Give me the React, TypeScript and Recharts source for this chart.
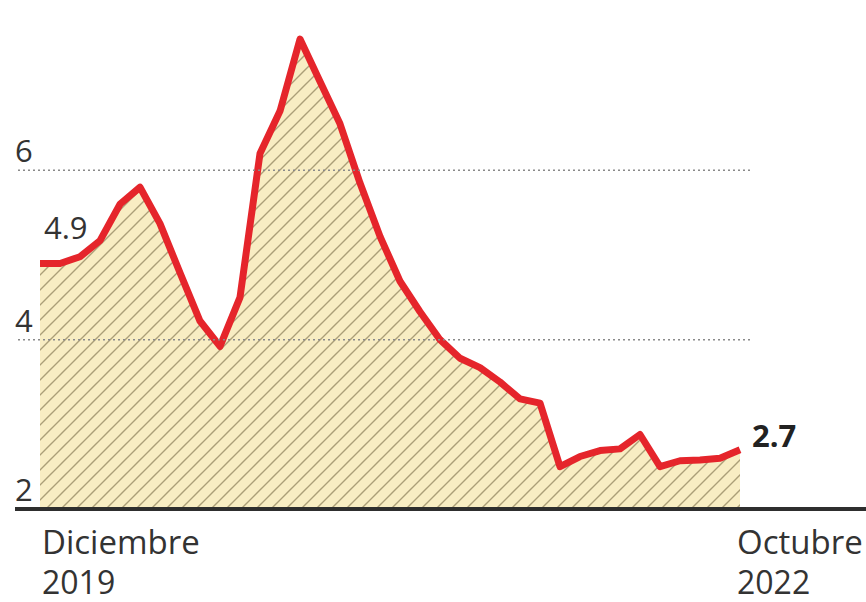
import { AreaChart, Area, XAxis, YAxis, ReferenceLine, LabelList } from "recharts"

// meses, diciembre 2019 a octubre 2022
const months = [
  "Dic 2019", "Ene 2020", "Feb 2020", "Mar 2020", "Abr 2020", "May 2020", "Jun 2020",
  "Jul 2020", "Ago 2020", "Sep 2020", "Oct 2020", "Nov 2020", "Dic 2020", "Ene 2021",
  "Feb 2021", "Mar 2021", "Abr 2021", "May 2021", "Jun 2021", "Jul 2021", "Ago 2021",
  "Sep 2021", "Oct 2021", "Nov 2021", "Dic 2021", "Ene 2022", "Feb 2022", "Mar 2022",
  "Abr 2022", "May 2022", "Jun 2022", "Jul 2022", "Ago 2022", "Sep 2022", "Oct 2022",
]

const values = [
  4.9, 4.9, 4.98, 5.17, 5.6, 5.8, 5.37, 4.79, 4.22, 3.92, 4.5, 6.2, 6.7, 7.55,
  7.05, 6.55, 5.85, 5.22, 4.69, 4.33, 4.0, 3.78, 3.67, 3.5, 3.3, 3.25, 2.5, 2.62,
  2.69, 2.71, 2.88, 2.5, 2.57, 2.58, 2.6, 2.7,
]

const xTickLabels = [
  ["Diciembre", "2019"],
  ["Octubre", "2022"],
]

const yTicks = [2, 4, 6]
const gridValues = [4, 6]

const data = values.map((v, i) => ({ m: i, mes: months[i] ?? "", v }))
const lastIndex = values.length - 1

const FONT = "'Open Sans', sans-serif"
const TEXT = "#333"

function XTick(props: any) {
  const { x, y, payload } = props
  const first = payload.value === 0
  const lines = first ? xTickLabels[0] : xTickLabels[1]
  const tx = first ? x + 2 : x - 3
  return (
    <g>
      <text x={tx} y={y + 37} textAnchor="start" fontSize={33} fill={TEXT} fontFamily={FONT}>
        {lines[0]}
      </text>
      <text x={tx} y={y + 77} textAnchor="start" fontSize={32} fill={TEXT} fontFamily={FONT}>
        {lines[1]}
      </text>
    </g>
  )
}

function YTick(props: any) {
  const { y, payload } = props
  return (
    <text x={15} y={y - 8} textAnchor="start" fontSize={31} fill={TEXT} fontFamily={FONT}>
      {payload.value}
    </text>
  )
}

function PointLabel(props: any) {
  const { x, y, index, value } = props
  if (index === 0) {
    return (
      <text x={x + 4} y={y - 24} fontSize={31} fill={TEXT} fontFamily={FONT}>
        {value}
      </text>
    )
  }
  if (index === lastIndex) {
    return (
      <text x={x + 12} y={y - 3} fontSize={31} fontWeight="bold" fill="#222" fontFamily={FONT}>
        {value}
      </text>
    )
  }
  return null
}

export default function App() {
  return (
    <div style={{ position: "absolute", left: 0, top: 0, width: 866, height: 602, background: "#fff" }}>
      <AreaChart
        width={866}
        height={602}
        data={data}
        margin={{ top: 1, right: 0, bottom: 0, left: 0 }}
      >
        <defs>
          <pattern id="hatch" patternUnits="userSpaceOnUse" width="15" height="15">
            <rect width="15" height="15" fill="#f8edc3" />
            <path d="M-1,1 l2,-2 M0,15 l15,-15 M14,16 l2,-2" stroke="#ab9f78" strokeWidth="1.4" />
          </pattern>
        </defs>
        <XAxis
          dataKey="m"
          type="number"
          domain={[0, lastIndex]}
          ticks={[0, lastIndex]}
          padding={{ left: 25, right: 126 }}
          axisLine={{ stroke: "#2e2e2e", strokeWidth: 4 }}
          tickLine={false}
          tick={<XTick />}
          height={93}
        />
        <YAxis
          type="number"
          domain={[2, 8]}
          ticks={yTicks}
          axisLine={false}
          tickLine={false}
          tick={<YTick />}
          width={15}
        />
        {gridValues.map((g) => (
          <ReferenceLine
            key={g}
            segment={[{ x: -1.1, y: g }, { x: 35.6, y: g }]}
            stroke="#8a8a8a"
            strokeWidth={1.5}
            strokeDasharray="2 3"
            ifOverflow="visible"
          />
        ))}
        <Area
          type="linear"
          dataKey="v"
          stroke="#e5252b"
          strokeWidth={7}
          strokeLinejoin="round"
          fill="url(#hatch)"
          fillOpacity={1}
          isAnimationActive={false}
          dot={false}
          activeDot={false}
        >
          <LabelList dataKey="v" content={<PointLabel />} />
        </Area>
      </AreaChart>
    </div>
  )
}
